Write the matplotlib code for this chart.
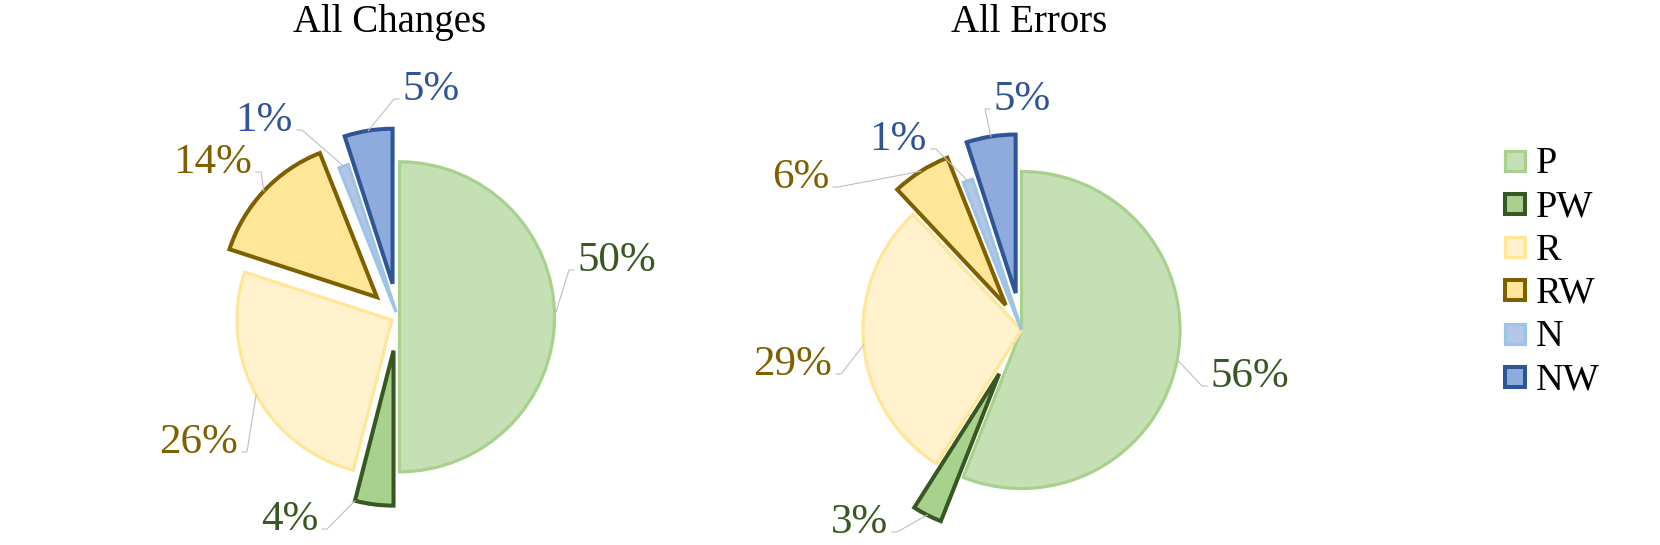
import matplotlib
matplotlib.use('Agg')
import matplotlib.pyplot as plt
import numpy as np
from matplotlib.patches import Rectangle

# ---------------- data ----------------
categories = ['P', 'PW', 'R', 'RW', 'N', 'NW']
changes_pct = [50, 4, 26, 14, 1, 5]
errors_pct = [56, 3, 29, 6, 1, 5]
titles = ['All Changes', 'All Errors']

# ---------------- styles ----------------
fill_colors = ['#C5E0B4', '#A9D18E', '#FFF2CC', '#FFE699', '#B4C7E7', '#8FAADC']
edge_colors = ['#A9D18E', '#385723', '#FFE699', '#7F6000', '#9DC3E6', '#2F5597']
edge_widths = [2.3, 2.9, 2.3, 2.9, 2.3, 2.9]
label_colors = ['#385723', '#385723', '#7F6000', '#7F6000', '#2F5597', '#2F5597']
leader_color = '#BFBFBF'

W, H, DPI = 1660, 545, 100
plt.rcParams['font.family'] = ['Liberation Serif', 'DejaVu Serif']
fig = plt.figure(figsize=(W / DPI, H / DPI), dpi=DPI)

# overlay axes in pixel coordinates (image orientation) for text/leaders/legend
ov = fig.add_axes([0, 0, 1, 1], zorder=5)
ov.set_xlim(0, W)
ov.set_ylim(H, 0)
ov.axis('off')
ov.patch.set_alpha(0)

# layout per pie
pies = [
    dict(values=changes_pct, title=titles[0], center=(397.8, 316.8), r=155.0,
         explode=[0.011, 0.22, 0.043, 0.185, 0.033, 0.216],
         title_xy=(390, 32),
         labels=[(577, 271, 'left'), (318, 530, 'right'), (238, 453, 'right'),
                 (252, 173, 'right'), (293, 131, 'right'), (402, 100, 'left')],
         anchor_frac=[0.5, 0.0, 0.5, 0.5, 0.5, 0.5]),
    dict(values=errors_pct, title=titles[1], center=(1021.5, 330.0), r=158.5,
         explode=[0.0, 0.31, 0.0, 0.186, 0.0, 0.236],
         title_xy=(1029.5, 32),
         labels=[(1210, 387, 'left'), (888, 533, 'right'), (832, 375, 'right'),
                 (829, 188, 'right'), (927, 150, 'right'), (993, 110, 'left')],
         anchor_frac=[0.5] * 6),
]

S = 200  # half size of pie axes box in px
for p in pies:
    cx, cy = p['center']
    ax = fig.add_axes([(cx - S) / W, (H - cy - S) / H, 2 * S / W, 2 * S / H])
    wedges, _ = ax.pie(p['values'], explode=p['explode'], startangle=90,
                       counterclock=False, colors=fill_colors, radius=1.0)
    for i, w in enumerate(wedges):
        w.set_edgecolor(edge_colors[i])
        w.set_linewidth(edge_widths[i])
        w.set_joinstyle('miter')
    lim = S / p['r']
    ax.set_aspect('auto')
    ax.set_xlim(-lim, lim)
    ax.set_ylim(-lim, lim)
    ax.axis('off')

    # title
    ov.text(p['title_xy'][0], p['title_xy'][1], p['title'], ha='center',
            va='baseline', fontsize=28, color='black')

    # labels + leader lines
    for i, w in enumerate(wedges):
        f = p['anchor_frac'][i]
        ang = np.deg2rad(w.theta1 + f * (w.theta2 - w.theta1))
        pt = (w.center[0] + w.r * np.cos(ang), w.center[1] + w.r * np.sin(ang))
        disp = ax.transData.transform(pt)
        ax_pt = ov.transData.inverted().transform(disp)
        xe, base, ha = p['labels'][i]
        if ha == 'left':
            p1 = (xe - 3, base - 1)
            p2 = (xe - 8, base - 1)
        else:
            p1 = (xe + 4, base - 1)
            p2 = (xe + 9, base - 1)
        ov.plot([p1[0], p2[0], ax_pt[0]], [p1[1], p2[1], ax_pt[1]],
                color=leader_color, lw=0.8, solid_joinstyle='miter')
        ov.text(xe, base, f'{p["values"][i]}%', ha=ha, va='baseline',
                fontsize=31, color=label_colors[i])

# legend (manual)
leg_x, leg_y0, leg_step = 1515, 160.5, 43.25
for i, cat in enumerate(categories):
    yc = leg_y0 + i * leg_step
    ov.add_patch(Rectangle((leg_x - 10, yc - 10), 20, 20, facecolor=fill_colors[i],
                           edgecolor=edge_colors[i], linewidth=edge_widths[i],
                           joinstyle='miter'))
    ov.text(1536, yc + 12.5, cat, ha='left', va='baseline', fontsize=27.5,
            color='black')

fig.savefig('out.png', dpi=DPI)
